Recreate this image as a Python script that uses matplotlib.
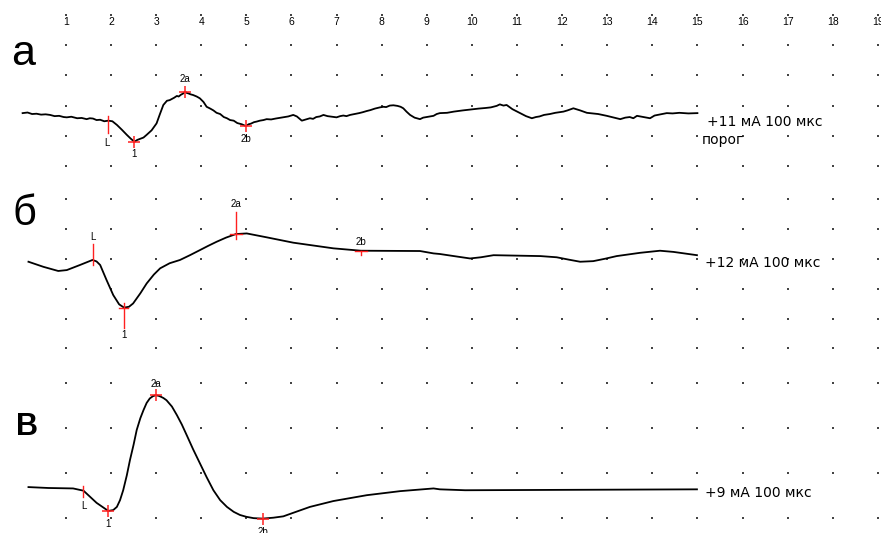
import matplotlib
matplotlib.use('Agg')
import matplotlib.pyplot as plt

# time axis labels (top row)
tick_labels = list(range(1, 20))

# panel а  (+11 mA, threshold) - amplitude in grid divisions
a_x = [0.04, 0.15, 0.25, 0.35, 0.45, 0.55, 0.65, 0.75, 0.85, 0.95, 1.02, 1.12, 1.25, 1.35, 1.46, 1.53,
       1.6, 1.68, 1.76, 1.85, 1.94, 2.03, 2.13, 2.24, 2.35, 2.44, 2.52, 2.58, 2.65, 2.72, 2.79, 2.9, 3.01,
       3.08, 3.16, 3.24, 3.3, 3.35, 3.4, 3.46, 3.5, 3.55, 3.6, 3.64, 3.68, 3.72, 3.77, 3.82, 3.9, 3.97,
       4.05, 4.12, 4.2, 4.27, 4.34, 4.42, 4.5, 4.57, 4.64, 4.72, 4.8, 4.9, 4.99, 5.05, 5.1, 5.17, 5.23,
       5.3, 5.38, 5.45, 5.55, 5.65, 5.73, 5.82, 5.93, 6.04, 6.12, 6.23, 6.32, 6.41, 6.48, 6.55, 6.63,
       6.71, 6.8, 6.9, 7.0, 7.08, 7.15, 7.22, 7.3, 7.4, 7.5, 7.58, 7.67, 7.75, 7.85, 7.96, 8.04, 8.1, 8.18,
       8.26, 8.35, 8.42, 8.48, 8.55, 8.63, 8.73, 8.85, 8.92, 9.0, 9.08, 9.15, 9.22, 9.29, 9.45, 9.6, 9.8,
       10.03, 10.15, 10.3, 10.42, 10.55, 10.62, 10.7, 10.77, 10.9, 11.07, 11.2, 11.33, 11.42, 11.5, 11.6,
       11.73, 11.85, 12.03, 12.12, 12.25, 12.4, 12.55, 12.68, 12.8, 12.9, 12.99, 13.1, 13.2, 13.29, 13.4,
       13.5, 13.58, 13.66, 13.8, 13.95, 14.05, 14.15, 14.25, 14.32, 14.45, 14.6, 14.8, 15.0]
a_y = [-0.25, -0.23, -0.28, -0.27, -0.30, -0.29, -0.31, -0.35, -0.34, -0.38, -0.39, -0.37, -0.42, -0.41,
       -0.45, -0.42, -0.43, -0.48, -0.47, -0.52, -0.50, -0.52, -0.64, -0.80, -0.97, -1.10, -1.20, -1.14,
       -1.10, -1.06, -0.97, -0.82, -0.59, -0.30, 0.02, 0.16, 0.18, 0.22, 0.26, 0.32, 0.30, 0.36, 0.40,
       0.46, 0.42, 0.40, 0.37, 0.35, 0.30, 0.24, 0.12, -0.04, -0.10, -0.16, -0.24, -0.28, -0.38, -0.42,
       -0.48, -0.50, -0.58, -0.62, -0.68, -0.62, -0.60, -0.55, -0.53, -0.50, -0.48, -0.45, -0.46, -0.43,
       -0.41, -0.39, -0.36, -0.31, -0.36, -0.50, -0.46, -0.42, -0.44, -0.38, -0.36, -0.31, -0.35, -0.37,
       -0.39, -0.35, -0.33, -0.35, -0.31, -0.28, -0.25, -0.22, -0.18, -0.15, -0.10, -0.06, -0.04, -0.05,
       0.00, 0.01, -0.01, -0.04, -0.09, -0.20, -0.31, -0.40, -0.45, -0.40, -0.38, -0.36, -0.34, -0.28,
       -0.25, -0.24, -0.20, -0.16, -0.12, -0.10, -0.08, -0.06, -0.01, 0.04, 0.00, 0.02, -0.12, -0.25,
       -0.35, -0.42, -0.38, -0.36, -0.31, -0.28, -0.24, -0.20, -0.16, -0.09, -0.16, -0.24, -0.26, -0.28,
       -0.31, -0.34, -0.38, -0.42, -0.45, -0.40, -0.38, -0.42, -0.34, -0.38, -0.42, -0.33, -0.30, -0.27,
       -0.25, -0.26, -0.24, -0.26, -0.25]
a_peaks = {'L': (1.94, -0.50), '1': (2.52, -1.20), '2a': (3.64, 0.46), '2b': (4.99, -0.68)}

# panel б  (+12 mA)
b_x = [0.17, 0.5, 0.83, 1.02, 1.31, 1.59, 1.68, 1.76, 1.9, 2.05, 2.18, 2.29, 2.4, 2.49, 2.65, 2.79, 2.95,
       3.09, 3.3, 3.53, 3.75, 3.97, 4.15, 4.34, 4.55, 4.77, 5.01, 5.45, 6.04, 6.93, 7.54, 8.85, 9.15,
       9.29, 9.6, 9.96, 10.2, 10.48, 11.52, 11.88, 12.15, 12.4, 12.69, 12.95, 13.21, 13.73, 14.17, 14.47,
       14.99]
b_y = [-0.09, -0.26, -0.40, -0.37, -0.20, -0.03, -0.08, -0.20, -0.70, -1.21, -1.52, -1.63, -1.60, -1.49,
       -1.15, -0.82, -0.52, -0.31, -0.14, -0.03, 0.13, 0.30, 0.44, 0.58, 0.72, 0.84, 0.86, 0.73, 0.55,
       0.36, 0.28, 0.27, 0.19, 0.17, 0.10, 0.02, 0.06, 0.13, 0.10, 0.06, -0.02, -0.09, -0.07, 0.01, 0.10,
       0.21, 0.28, 0.24, 0.13]
b_peaks = {'L': (1.59, -0.03), '1': (2.29, -1.63), '2a': (4.77, 0.84), '2b': (7.54, 0.28)}

# panel в  (+9 mA)
c_x = [0.17, 0.61, 1.16, 1.39, 1.68, 1.94, 2.05, 2.13, 2.2, 2.27, 2.35, 2.42, 2.5, 2.57, 2.65, 2.72, 2.79,
       2.86, 2.93, 2.99, 3.05, 3.1, 3.16, 3.23, 3.35, 3.46, 3.57, 3.68, 3.82, 3.97, 4.12, 4.27, 4.42, 4.57,
       4.72, 4.86, 5.0, 5.16, 5.36, 5.6, 5.82, 6.1, 6.41, 6.93, 7.67, 8.41, 9.15, 9.29, 9.85, 14.99]
c_y = [-0.31, -0.33, -0.34, -0.39, -0.66, -0.84, -0.82, -0.75, -0.60, -0.38, -0.05, 0.29, 0.63, 0.96,
       1.22, 1.40, 1.56, 1.66, 1.71, 1.73, 1.72, 1.70, 1.67, 1.62, 1.48, 1.29, 1.08, 0.84, 0.53, 0.22,
       -0.09, -0.38, -0.60, -0.75, -0.86, -0.93, -0.97, -1.00, -1.01, -0.99, -0.96, -0.86, -0.75, -0.62,
       -0.49, -0.40, -0.34, -0.36, -0.38, -0.36]
c_peaks = {'L': (1.39, -0.39), '1': (1.94, -0.84), '2a': (2.99, 1.73), '2b': (5.36, -1.01)}

fig = plt.figure(figsize=(8.81, 5.33), dpi=100)
ax_a = fig.add_axes([0, 0.6576, 1, 0.3424])
ax_b = fig.add_axes([0, 0.3133, 1, 0.3443])
ax_c = fig.add_axes([0, 0.0, 1, 0.3133])

xlim = (-0.461, 19.07)
panels = [
    (ax_a, (-2.55, 3.50), [3, 2, 1, 0, -1, -2]),
    (ax_b, (-3.59, 2.57), [2, 1, 0, -1, -2, -3]),
    (ax_c, (-1.33, 2.38), [2, 1, 0, -1]),
]
for ax, ylim, rows in panels:
    ax.set_xlim(*xlim)
    ax.set_ylim(*ylim)
    ax.axis('off')
    gx = [t for t in tick_labels for _ in rows]
    gy = [r for _ in tick_labels for r in rows]
    ax.scatter(gx, gy, s=1.6, marker='s', color='#444444', linewidths=0, zorder=1)

for t in tick_labels:
    ax_a.text(t, 2.77, str(t), ha='center', va='center', fontsize=7.5,
              family='Liberation Sans', color='black')

lw = 1.3
red = '#ff2020'
small = dict(fontsize=7, family='Liberation Sans', ha='center', va='center')

# --- а ---
ax_a.plot(a_x, a_y, color='black', lw=lw, zorder=3)
ax_a.plot([a_peaks['L'][0]] * 2, [-0.34, -0.91], color=red, lw=1, zorder=4)
for k in ['1', '2a', '2b']:
    ax_a.plot(*a_peaks[k], marker='+', ms=8, mew=1.1, color=red, zorder=4)
ax_a.text(1.90, -1.24, 'L', **small)
ax_a.text(2.52, -1.60, '1', **small)
ax_a.text(3.64, 0.87, '2a', **small)
ax_a.text(4.99, -1.12, '2b', **small)
ax_a.text(15.21, -0.53, '+11 мА 100 мкс', fontsize=10, va='center', ha='left')
ax_a.text(15.10, -1.14, 'порог', fontsize=10, va='center', ha='left')
ax_a.text(-0.22, 1.34, 'а', fontsize=31, family='Liberation Sans', va='baseline', ha='left')

# --- б ---
ax_b.plot(b_x, b_y, color='black', lw=lw, zorder=3)
ax_b.plot([b_peaks['L'][0]] * 2, [0.50, -0.20], color=red, lw=1, zorder=4)
ax_b.plot([b_peaks['1'][0]] * 2, [-1.48, -2.32], color=red, lw=1, zorder=4)
ax_b.plot([2.18, 2.38], [-1.63, -1.63], color=red, lw=1, zorder=4)
ax_b.plot([b_peaks['2a'][0]] * 2, [1.58, 0.67], color=red, lw=1, zorder=4)
ax_b.plot([4.64, 4.90], [0.84, 0.84], color=red, lw=1, zorder=4)
ax_b.plot([7.41, 7.67], [0.28, 0.28], color=red, lw=1, zorder=4)
ax_b.plot([b_peaks['2b'][0]] * 2, [0.28, 0.13], color=red, lw=1, zorder=4)
ax_b.text(1.59, 0.75, 'L', **small)
ax_b.text(2.29, -2.55, '1', **small)
ax_b.text(4.77, 1.85, '2a', **small)
ax_b.text(7.54, 0.58, '2b', **small)
ax_b.text(15.17, -0.14, '+12 мА 100 мкс', fontsize=10, va='center', ha='left')
ax_b.text(-0.19, 1.14, 'б', fontsize=30, family='Liberation Sans', va='baseline', ha='left')

# --- в ---
ax_c.plot(c_x, c_y, color='black', lw=lw, zorder=3)
ax_c.plot([c_peaks['L'][0]] * 2, [-0.28, -0.53], color=red, lw=1, zorder=4)
for k in ['1', '2a', '2b']:
    ax_c.plot(*c_peaks[k], marker='+', ms=8, mew=1.1, color=red, zorder=4)
ax_c.text(1.39, -0.73, 'L', **small)
ax_c.text(1.94, -1.12, '1', **small)
ax_c.text(2.99, 1.99, '2a', **small)
ax_c.text(5.36, -1.30, '2b', **small)
ax_c.text(15.17, -0.45, '+9 мА 100 мкс', fontsize=10, va='center', ha='left')
ax_c.text(-0.10, 0.84, 'В', fontsize=22, family='Liberation Sans', fontweight='bold',
          va='baseline', ha='left')

plt.savefig('out.png', dpi=100)
